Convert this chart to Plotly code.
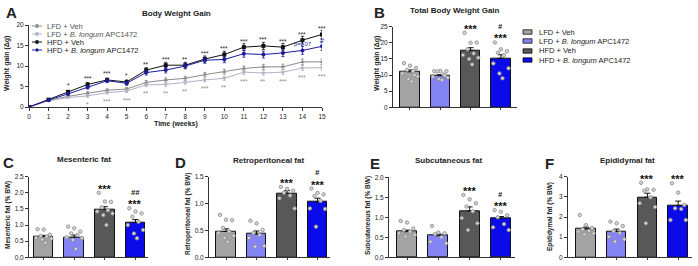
import plotly.graph_objects as go

W, H = 698, 266
FONT = "Liberation Sans, Arial, sans-serif"
INK = "#222222"

# ---------------- data ----------------
weeks = list(range(16))
lfd_veh = [0, 1.6, 2.6, 3.4, 4.1, 4.4, 6.0, 6.6, 7.0, 7.9, 8.6, 9.4, 9.8, 9.8, 11.0, 11.0]
lfd_bl = [0, 1.5, 2.3, 2.7, 3.5, 3.9, 5.4, 5.5, 6.0, 6.6, 7.0, 8.5, 8.3, 8.5, 9.5, 9.6]
hfd_veh = [0, 1.8, 3.7, 5.5, 6.6, 6.1, 9.0, 10.2, 10.2, 11.7, 12.8, 14.6, 14.9, 14.6, 16.3, 17.7]
hfd_bl = [0, 1.7, 3.2, 4.8, 6.4, 5.8, 8.4, 9.0, 10.0, 11.4, 11.6, 13.0, 12.8, 13.2, 13.8, 14.8]
lfd_veh_sem = [0, 0.15, 0.25, 0.3, 0.35, 0.35, 0.45, 0.5, 0.5, 0.55, 0.6, 0.6, 0.6, 0.65, 0.7, 0.7]
lfd_bl_sem = [0, 0.15, 0.2, 0.3, 0.3, 0.35, 0.4, 0.45, 0.45, 0.5, 0.5, 0.55, 0.55, 0.6, 0.6, 0.6]
hfd_veh_sem = [0, 0.2, 0.3, 0.4, 0.45, 0.5, 0.6, 0.7, 0.7, 0.75, 0.8, 0.85, 0.85, 0.9, 0.95, 1.0]
hfd_bl_sem = [0, 0.2, 0.3, 0.4, 0.45, 0.5, 0.6, 0.7, 0.7, 0.75, 0.8, 0.85, 0.85, 0.9, 0.95, 1.0]
stars_hfd = ["", "", "*", "***", "***", "*", "**", "***", "**", "***", "***", "***", "***", "***", "***", "***"]
stars_lfd = ["", "", "", "*", "***", "***", "**", "**", "**", "***", "**", "***", "**", "***", "***", "***"]
marks_hfd_bl = ["", "", "", "", "", "", "", "", "", "", "", "", "", "", "p=0.07", "#"]

groups = ["LFD + Veh", "LFD + <i>B. longum</i> APC1472", "HFD + Veh", "HFD + <i>B. longum</i> APC1472"]
bar_colors = ["#a3a3a3", "#8484f4", "#585858", "#0b0bea"]
line_colors = ["#8a8a8a", "#b2b2c4", "#111111", "#1c1c9c"]

total_gain_mean = [11.0, 9.8, 17.6, 15.2]
total_gain_sem = [0.6, 0.3, 0.9, 1.1]
total_gain_pts = [[13.7, 12.9, 12.2, 11.6, 11.2, 10.5, 9.6, 8.8, 8.0, 10.0],
                  [11.2, 11.3, 11.2, 11.1, 10.2, 9.5, 9.2, 8.8, 8.5, 9.9],
                  [23.1, 20.0, 20.1, 18.0, 16.7, 16.2, 15.4, 15.0, 13.3],
                  [20.1, 18.0, 17.4, 16.9, 16.2, 13.6, 12.1, 10.5, 9.0]]
mes_mean = [0.64, 0.62, 1.48, 1.08]
mes_sem = [0.04, 0.07, 0.09, 0.09]
mes_pts = [[0.87, 0.86, 0.70, 0.66, 0.64, 0.60, 0.58, 0.55, 0.45],
           [0.95, 0.90, 0.80, 0.74, 0.69, 0.62, 0.59, 0.54, 0.26],
           [2.00, 1.73, 1.72, 1.55, 1.46, 1.42, 1.36, 1.31, 1.00],
           [1.52, 1.42, 1.36, 1.26, 1.10, 1.00, 0.85, 0.74, 0.59]]
ret_mean = [0.48, 0.43, 1.19, 1.03]
ret_sem = [0.05, 0.06, 0.05, 0.07]
ret_pts = [[0.79, 0.70, 0.69, 0.55, 0.48, 0.45, 0.40, 0.36, 0.29],
           [0.68, 0.63, 0.51, 0.45, 0.42, 0.36, 0.21, 0.20],
           [1.31, 1.27, 1.24, 1.20, 1.15, 1.10, 0.91],
           [1.28, 1.20, 1.17, 1.14, 1.05, 0.91, 0.90, 0.57]]
sub_mean = [0.64, 0.54, 1.16, 0.97]
sub_sem = [0.04, 0.04, 0.10, 0.05]
sub_pts = [[0.91, 0.87, 0.72, 0.68, 0.64, 0.60, 0.56, 0.52],
           [0.78, 0.62, 0.60, 0.58, 0.50, 0.39, 0.35],
           [1.56, 1.45, 1.35, 1.27, 1.15, 0.98, 0.85, 0.68],
           [1.18, 1.14, 1.05, 1.00, 0.83, 0.75, 0.68]]
epi_mean = [1.40, 1.28, 2.98, 2.57]
epi_sem = [0.10, 0.12, 0.20, 0.22]
epi_pts = [[2.10, 1.60, 1.45, 1.38, 1.30, 1.27, 1.19, 1.15],
           [1.77, 1.69, 1.55, 1.30, 1.20, 1.02, 0.90, 0.78],
           [3.70, 3.37, 3.35, 3.30, 2.98, 2.68, 2.50, 1.69],
           [3.67, 3.21, 2.60, 2.43, 2.40, 1.85, 1.85]]

# ---------------- figure ----------------
fig = go.Figure()
annotations = []
shapes = []


def P(x, y):
    return x / W, 1 - y / H


def text(t, x, y, size, bold=False, color=INK, xanchor="center", yanchor="middle", angle=0):
    if bold:
        t = "<b>" + t + "</b>"
    xx, yy = P(x, y)
    annotations.append(dict(text=t, x=xx, y=yy, xref="paper", yref="paper", showarrow=False,
                            font=dict(family=FONT, size=size, color=color),
                            xanchor=xanchor, yanchor=yanchor, textangle=angle))


def axis_style(**kw):
    d = dict(showline=True, linecolor="#333333", linewidth=1, ticks="outside", ticklen=3,
             tickwidth=1, tickcolor="#333333", showgrid=False, zeroline=False,
             automargin=False, fixedrange=True,
             tickfont=dict(family=FONT, size=6.5, color=INK))
    d.update(kw)
    return d


# ---- Panel A ----
series = [(lfd_veh, lfd_veh_sem, "triangle-up"), (lfd_bl, lfd_bl_sem, "triangle-down"),
          (hfd_veh, hfd_veh_sem, "square"), (hfd_bl, hfd_bl_sem, "circle")]
for (vals, sem, sym), col in zip(series, line_colors):
    fig.add_trace(go.Scatter(x=weeks, y=vals, mode="lines+markers", xaxis="x", yaxis="y",
                             line=dict(color=col, width=1),
                             marker=dict(symbol=sym, size=4, color=col),
                             error_y=dict(type="data", array=sem, color=col, thickness=0.8, width=1.5),
                             showlegend=False))

for w, s in zip(weeks, stars_hfd):
    if s:
        annotations.append(dict(text=s, x=w, y=hfd_veh[w], xref="x", yref="y", showarrow=False,
                                yshift=6, font=dict(family=FONT, size=6.5, color=INK)))
for w, s in zip(weeks, stars_lfd):
    if s:
        annotations.append(dict(text=s, x=w, y=lfd_bl[w], xref="x", yref="y", showarrow=False,
                                yshift=-9, font=dict(family=FONT, size=6.5, color="#8a8a8a")))
for w, s in zip(weeks, marks_hfd_bl):
    if s:
        annotations.append(dict(text=s, x=w, y=hfd_bl[w], xref="x", yref="y", showarrow=False,
                                yshift=6, font=dict(family=FONT, size=5.5 if len(s) > 1 else 7,
                                                    color="#1c1c9c")))

fig.update_layout(
    xaxis=axis_style(domain=[29 / W, 322 / W], range=[0, 15], tickvals=weeks, anchor="y"),
    yaxis=axis_style(domain=[1 - 107 / H, 1 - 25 / H], range=[0, 20], tickvals=[0, 5, 10, 15, 20],
                     anchor="x"),
)
text("A", 11, 12, 15, bold=True)
text("Body Weight Gain", 176, 14, 8, bold=True)
text("Time (weeks)", 176, 124, 7, bold=True)
text("Weight gain (Δg)", 7, 64, 7, bold=True, angle=-90)

# legend A (manual)
leg_y = [26, 34, 42, 50]
marker_shape = ["tri", "tri", "rect", "circle"]
for i, (g, col) in enumerate(zip(groups, line_colors)):
    y = leg_y[i]
    x0, y0 = P(32, y)
    x1, _ = P(42, y)
    shapes.append(dict(type="line", xref="paper", yref="paper", x0=x0, x1=x1, y0=y0, y1=y0,
                       line=dict(color=col, width=1)))
    mx0, my0 = P(35.5, y + 1.8)
    mx1, my1 = P(38.5, y - 1.8)
    shapes.append(dict(type="circle" if marker_shape[i] == "circle" else "rect",
                       xref="paper", yref="paper", x0=mx0, x1=mx1, y0=my0, y1=my1,
                       fillcolor=col, line=dict(color=col, width=0)))
    text(g, 45, y, 7.5, color=INK if i >= 2 else "#555555", xanchor="left")

# ---- bar panels ----
offs = [-0.2, 0.0, 0.2, -0.1, 0.1, -0.25, 0.25, -0.05, 0.05, 0.15]
panels = [
    dict(ax="2", mean=total_gain_mean, sem=total_gain_sem, pts=total_gain_pts,
         stars=["", "", "***", "***"], hashes=["", "", "", "#"],
         xd=[393, 517], yd=[107.3, 26.7], xr=[-0.56, 3.53], yr=[0, 25], tv=[0, 5, 10, 15, 20, 25],
         fmt="d", letter=("B", 379, 12), title=("Total Body Weight Gain", 455, 10),
         ytitle=("Weight gain (Δg)", 377, 64, 7)),
    dict(ax="3", mean=mes_mean, sem=mes_sem, pts=mes_pts,
         stars=["", "", "***", "***"], hashes=["", "", "", "##"],
         xd=[29, 148], yd=[257.3, 176.7], xr=[-0.48, 3.41], yr=[0, 2.5],
         tv=[0, 0.5, 1.0, 1.5, 2.0, 2.5], fmt=".1f", letter=("C", 8, 162),
         title=("Mesenteric fat", 84, 159), ytitle=("Mesenteric fat (% BW)", 8, 215, 6.5)),
    dict(ax="4", mean=ret_mean, sem=ret_sem, pts=ret_pts,
         stars=["", "", "***", "***"], hashes=["", "", "", "#"],
         xd=[209, 330], yd=[257.3, 176.7], xr=[-0.56, 3.41], yr=[0, 1.5],
         tv=[0, 0.5, 1.0, 1.5], fmt=".1f", letter=("D", 180, 162),
         title=("Retroperitoneal fat", 268, 160), ytitle=("Retroperitoneal fat (% BW)", 188, 214, 6.5)),
    dict(ax="5", mean=sub_mean, sem=sub_sem, pts=sub_pts,
         stars=["", "", "***", "***"], hashes=["", "", "", "#"],
         xd=[389, 515], yd=[257.3, 177.3], xr=[-0.575, 3.45], yr=[0, 2.0],
         tv=[0, 0.5, 1.0, 1.5, 2.0], fmt=".1f", letter=("E", 375, 163),
         title=("Subcutaneous fat", 448, 160), ytitle=("Subcutaneous fat (% BW)", 368, 215, 6.5)),
    dict(ax="6", mean=epi_mean, sem=epi_sem, pts=epi_pts,
         stars=["", "", "***", "***"], hashes=["", "", "", ""],
         xd=[568, 692], yd=[257.3, 176.7], xr=[-0.58, 3.45], yr=[0, 4],
         tv=[0, 1, 2, 3, 4], fmt="d", letter=("F", 549, 163),
         title=("Epididymal fat", 627, 160), ytitle=("Epididymal fat (% BW)", 550, 217, 6.5)),
]

for p in panels:
    xa, ya = "x" + p["ax"], "y" + p["ax"]
    fig.add_trace(go.Bar(x=[0, 1, 2, 3], y=p["mean"], width=0.64, xaxis=xa, yaxis=ya,
                         marker=dict(color=bar_colors, line=dict(color="#111111", width=1)),
                         error_y=dict(type="data", array=p["sem"], arrayminus=[0, 0, 0, 0],
                                      symmetric=False, color="#111111", thickness=1, width=3),
                         showlegend=False))
    px_, py_ = [], []
    for i, pts in enumerate(p["pts"]):
        for k, v in enumerate(pts):
            px_.append(i + offs[k % len(offs)])
            py_.append(v)
    fig.add_trace(go.Scatter(x=px_, y=py_, mode="markers", xaxis=xa, yaxis=ya,
                             marker=dict(size=3.5, color="#d4d4d4",
                                         line=dict(color="#8a8a8a", width=0.8)),
                             showlegend=False))
    for i in range(4):
        top = max(p["pts"][i])
        if p["stars"][i]:
            annotations.append(dict(text="<b>" + p["stars"][i] + "</b>", x=i, y=top, xref=xa, yref=ya,
                                    showarrow=False, yshift=4,
                                    font=dict(family=FONT, size=11, color="#111111")))
        if p["hashes"][i]:
            annotations.append(dict(text="<b><i>" + p["hashes"][i] + "</i></b>", x=i, y=top,
                                    xref=xa, yref=ya, showarrow=False, yshift=16,
                                    font=dict(family=FONT, size=7.5, color="#111111")))
    fig.layout["xaxis" + p["ax"]] = axis_style(
        domain=[p["xd"][0] / W, p["xd"][1] / W], range=p["xr"], tickvals=[0, 1, 2, 3],
        ticktext=["", "", "", ""], ticklen=2, anchor=ya)
    fig.layout["yaxis" + p["ax"]] = axis_style(
        domain=[1 - p["yd"][0] / H, 1 - p["yd"][1] / H], range=p["yr"], tickvals=p["tv"],
        tickformat=p["fmt"], anchor=xa)
    text(p["letter"][0], p["letter"][1], p["letter"][2], 15, bold=True)
    text(p["title"][0], p["title"][1], p["title"][2], 8, bold=True)
    text(p["ytitle"][0], p["ytitle"][1], p["ytitle"][2], p["ytitle"][3], bold=True, angle=-90)

# legend B (manual)
legb_y = [32, 41, 51, 60]
for i, (g, col) in enumerate(zip(groups, bar_colors)):
    y = legb_y[i]
    x0, y0 = P(523, y - 2.2)
    x1, y1 = P(532, y + 2.2)
    shapes.append(dict(type="rect", xref="paper", yref="paper", x0=x0, x1=x1, y0=y0, y1=y1,
                       fillcolor=col, line=dict(color="#111111", width=0.8)))
    text(g, 537, y, 7.5, xanchor="left")

fig.update_layout(width=W, height=H, margin=dict(l=0, r=0, t=0, b=0),
                  paper_bgcolor="white", plot_bgcolor="white", annotations=annotations,
                  shapes=shapes, showlegend=False, bargap=0,
                  font=dict(family=FONT, color=INK))
fig.write_html("out.html")
